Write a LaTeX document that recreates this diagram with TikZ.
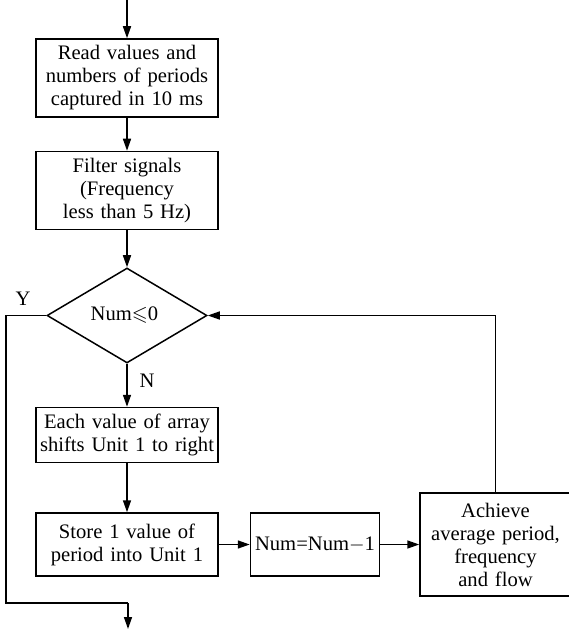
\documentclass[tikz,border=0pt]{standalone}
\usepackage{fontspec}
\usepackage{amssymb}
\setmainfont{Liberation Serif}
\usetikzlibrary{arrows.meta, positioning, shapes.geometric}

\begin{document}
\begin{tikzpicture}[
        x=0.5pt, y=-0.5pt,
        stepbox/.style={
            draw,
            line width=0.75pt,
            inner sep=0pt,
            align=center,
            font=\fontsize{10.3}{11.5}\selectfont
        },
        decision/.style={
            stepbox,
            diamond,
            minimum width=80pt,
            minimum height=47.5pt
        },
        flowarrow/.style={
            -{Triangle[length=6pt, width=4pt]},
            line width=0.75pt
        },
        flowline/.style={
            line width=0.75pt
        },
        branchlabel/.style={
            font=\fontsize{10.3}{11.5}\selectfont,
            inner sep=0pt
        }
    ]

        \useasboundingbox (0,0) rectangle (568,630);

        % ---------------------------------------------------------------------
        % Main column
        % ---------------------------------------------------------------------

        \node[
            stepbox,
            text width=91pt,
            minimum height=39pt
        ] (read) at (127,78) {
            Read values and\\
            numbers of periods\\
            captured in 10 ms
        };

        \node[
            stepbox,
            text width=91pt,
            minimum height=39pt,
            below=16.5pt of read
        ] (filter) {
            Filter signals\\
            (Frequency\\
            less than 5 Hz)
        };

        \node[
            decision,
            below=18.5pt of filter
        ] (check) {
            Num$\leqslant$0
        };

        \node[
            stepbox,
            text width=91pt,
            minimum height=27.5pt,
            below=21.5pt of check
        ] (shift) {
            Each value of array\\
            shifts Unit 1 to right
        };

        \node[
            stepbox,
            text width=91pt,
            minimum height=31.5pt,
            below=24.5pt of shift
        ] (store) {
            Store 1 value of\\
            period into Unit 1
        };

        % ---------------------------------------------------------------------
        % Bottom row
        % ---------------------------------------------------------------------

        \node[
            stepbox,
            text width=64.5pt,
            minimum height=31.5pt,
            right=15.5pt of store
        ] (count) {
            Num=Num$-$1
        };

        \node[
            stepbox,
            text width=75.5pt,
            minimum height=51.5pt,
            right=19.5pt of count
        ] (average) {
            Achieve\\
            average period,\\
            frequency\\
            and flow
        };

        % ---------------------------------------------------------------------
        % Connectors
        % ---------------------------------------------------------------------

        \coordinate (entry) at (127,0);
        \coordinate (ybend) at (6,603);
        \coordinate (exit) at (128,629);

        \draw[flowarrow] (entry) -- (read);
        \draw[flowarrow] (read) -- (filter);
        \draw[flowarrow] (filter) -- (check);
        \draw[flowarrow] (check) -- (shift);
        \draw[flowarrow] (shift) -- (store);
        \draw[flowarrow] (store) -- (count);
        \draw[flowarrow] (count) -- (average);
        \draw[flowarrow] (average.north) |- (check.east);

        \draw[flowline] (check.west) -| (ybend) -- (exit |- ybend);
        \draw[flowarrow] (exit |- ybend) -- (exit);

        % ---------------------------------------------------------------------
        % Branch labels
        % ---------------------------------------------------------------------

        \node[branchlabel] (yes) at (23,299) {Y};
        \node[branchlabel] (no) at (147,381) {N};

    \end{tikzpicture}
\end{document}
